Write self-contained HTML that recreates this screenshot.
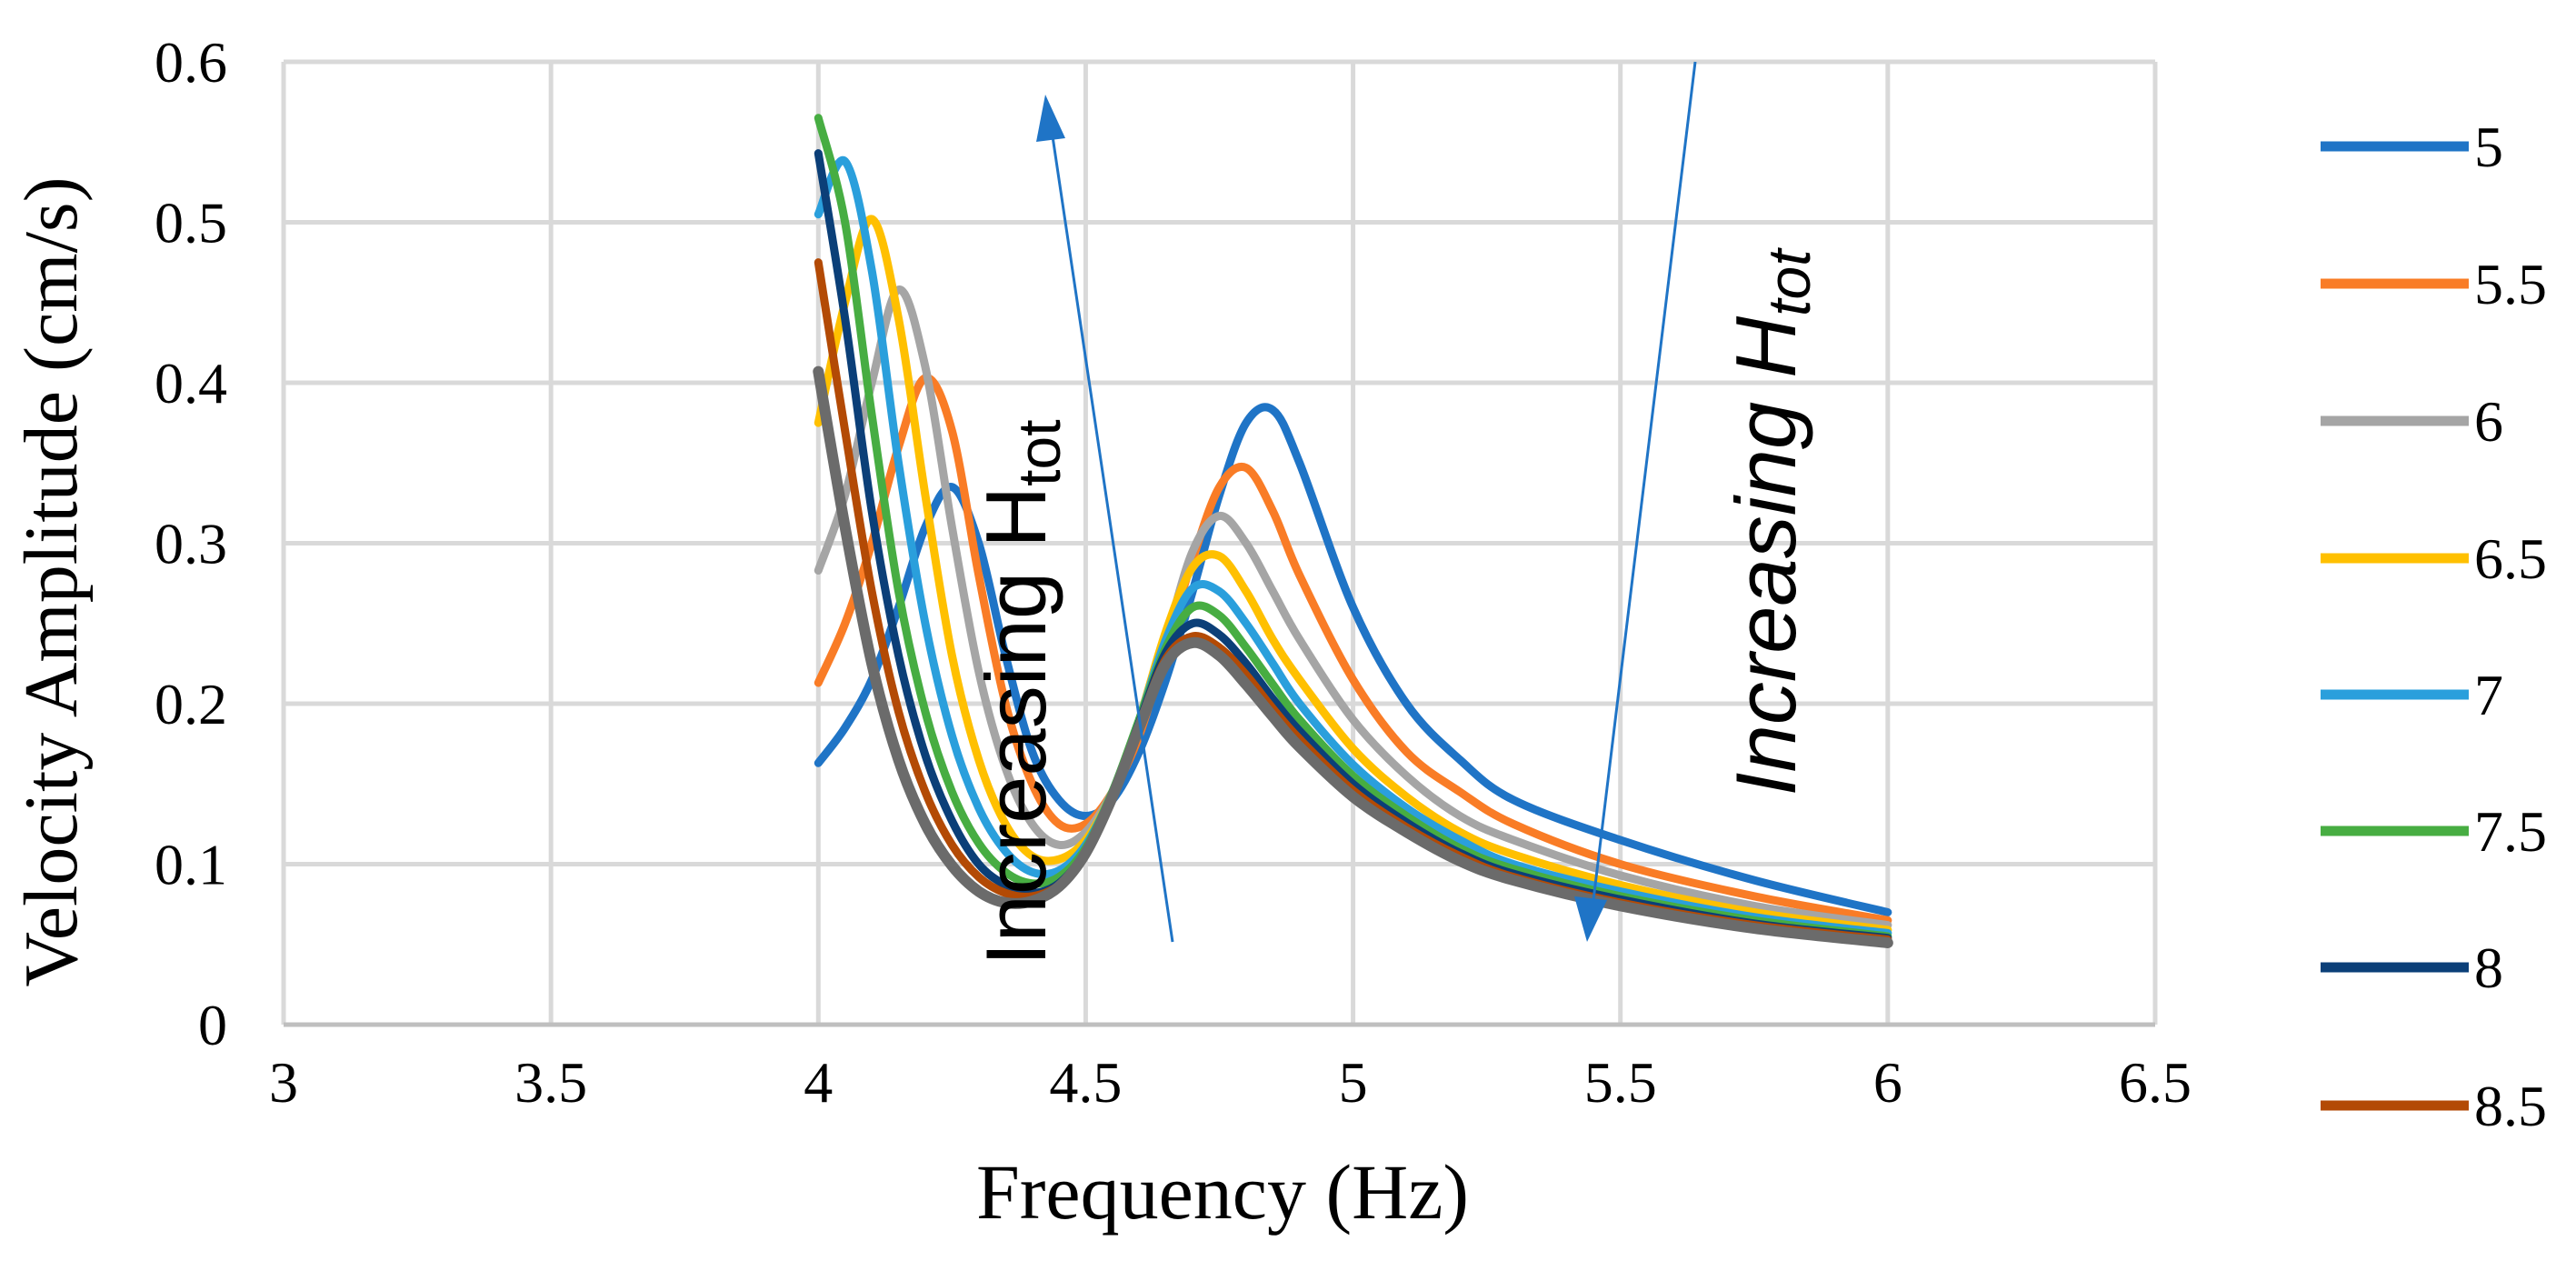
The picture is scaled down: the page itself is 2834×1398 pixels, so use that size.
<!DOCTYPE html>
<html><head><meta charset="utf-8"><style>
html,body{margin:0;padding:0;background:#fff;}
svg{display:block;}
text{font-family:"Liberation Serif",serif;fill:#000;}
</style></head><body>
<svg id="chart" width="2834" height="1398" viewBox="0 0 2834 1398" xmlns="http://www.w3.org/2000/svg">
<g id="grid"></g>
<g id="ticks"></g>
<g id="series"></g>
<g id="annot">
  <line x1="1290" y1="1036" x2="1158" y2="150" stroke="#1f74c6" stroke-width="3"/>
  <polygon points="1150,104 1172,152 1140,156" fill="#1f74c6"/>
  <text transform="translate(1150,762) rotate(-90)" text-anchor="middle" style="font-family:'Liberation Sans',sans-serif;font-size:94px">Increasing H<tspan font-size="66" dy="16">tot</tspan></text>
  <line x1="1865" y1="68" x2="1753" y2="990" stroke="#1f74c6" stroke-width="3"/>
  <polygon points="1746,1036 1732,986 1768,990" fill="#1f74c6"/>
  <text transform="translate(1975,575) rotate(-90)" text-anchor="middle" style="font-family:'Liberation Sans',sans-serif;font-size:94px;font-style:italic">Increasing H<tspan font-size="66" dy="16">tot</tspan></text>
</g>
<text x="1345" y="1340" text-anchor="middle" font-size="86">Frequency (Hz)</text>
<text transform="translate(84,640) rotate(-90)" text-anchor="middle" font-size="84">Velocity Amplitude (cm/s)</text>
<g id="legend"></g>
</svg>
<script>
const freqs=[4.0,4.05,4.1,4.15,4.2,4.25,4.3,4.35,4.4,4.45,4.5,4.55,4.6,4.65,4.7,4.75,4.8,4.85,4.9,5.0,5.1,5.2,5.3,5.5,5.75,6.0];
const seriesNames=["5","5.5","6","6.5","7","7.5","8","8.5","9"];
const seriesColors=["#1f74c6","#f97c26","#a5a5a5","#ffc000","#2a9fdc","#47ad42","#0b3f78","#b34a05","#6b6b6b"];
const s5=[0.163,0.185,0.215,0.26,0.31,0.335,0.3,0.23,0.17,0.14,0.13,0.14,0.17,0.215,0.27,0.33,0.375,0.383,0.35,0.26,0.2,0.165,0.14,0.115,0.09,0.07];
const s55=[0.213,0.25,0.3,0.36,0.403,0.37,0.28,0.2,0.15,0.125,0.125,0.145,0.18,0.235,0.29,0.335,0.347,0.32,0.28,0.215,0.17,0.145,0.125,0.1,0.08,0.065];
const s6=[0.283,0.33,0.4,0.458,0.41,0.31,0.22,0.16,0.125,0.112,0.12,0.145,0.185,0.24,0.295,0.317,0.3,0.27,0.24,0.19,0.155,0.13,0.115,0.093,0.074,0.062];
const s65=[0.375,0.45,0.502,0.44,0.33,0.23,0.165,0.125,0.105,0.103,0.115,0.145,0.19,0.245,0.285,0.292,0.27,0.24,0.215,0.172,0.142,0.12,0.106,0.087,0.07,0.059];
const s7=[0.505,0.538,0.47,0.35,0.25,0.18,0.135,0.108,0.095,0.096,0.112,0.145,0.19,0.24,0.272,0.27,0.25,0.225,0.2,0.162,0.135,0.115,0.1,0.083,0.067,0.057];
const s75=[0.565,0.5,0.38,0.27,0.195,0.145,0.113,0.095,0.088,0.092,0.11,0.145,0.19,0.235,0.26,0.255,0.235,0.212,0.19,0.155,0.13,0.11,0.097,0.08,0.065,0.055];
const s8=[0.543,0.44,0.32,0.23,0.168,0.127,0.1,0.087,0.082,0.088,0.108,0.143,0.188,0.232,0.25,0.243,0.225,0.203,0.183,0.15,0.126,0.107,0.094,0.078,0.063,0.054];
const s85=[0.475,0.37,0.27,0.195,0.145,0.112,0.092,0.082,0.08,0.087,0.107,0.142,0.187,0.228,0.242,0.235,0.218,0.197,0.178,0.146,0.123,0.105,0.092,0.076,0.062,0.053];
const s9=[0.407,0.31,0.225,0.165,0.125,0.099,0.083,0.076,0.077,0.086,0.107,0.142,0.185,0.225,0.238,0.23,0.212,0.192,0.173,0.142,0.12,0.102,0.09,0.074,0.06,0.051];
const allSeries=[s5,s55,s6,s65,s7,s75,s8,s85,s9];
const xTicks=["3","3.5","4","4.5","5","5.5","6","6.5"];
const yTicks=["0","0.1","0.2","0.3","0.4","0.5","0.6"];

const NS="http://www.w3.org/2000/svg";
const X0=312,X1=2371,Y0=1127,Y1=68;
function xs(v){return X0+(v-3)/(6.5-3)*(X1-X0);}
function ys(v){return Y0-(v/0.6)*(Y0-Y1);}
function mk(tag,parent,attrs){const e=document.createElementNS(NS,tag);for(const k in attrs)e.setAttribute(k,attrs[k]);parent.appendChild(e);return e;}
const grid=document.getElementById('grid'),ticks=document.getElementById('ticks');
xTicks.forEach(t=>{const v=parseFloat(t);
  const l=mk('line',grid,{x1:xs(v),x2:xs(v),y1:Y1,y2:Y0,stroke:'#d9d9d9','stroke-width':5});
  
  
  const tx=mk('text',ticks,{x:xs(v),y:1212,'text-anchor':'middle','font-size':64});
  tx.textContent=t;
  
  
});
yTicks.forEach(t=>{const v=parseFloat(t);
  const l=mk('line',grid,{x1:X0,x2:X1,y1:ys(v),y2:ys(v),stroke:v===0?'#bfbfbf':'#d9d9d9','stroke-width':5});
  
  
  const tx=mk('text',ticks,{x:250,y:ys(v)+22,'text-anchor':'end','font-size':64});
  tx.textContent=t;
  
  
});
function smoothPath(pts){
  let d='M'+pts[0][0]+','+pts[0][1];
  for(let i=0;i<pts.length-1;i++){
    const p0=pts[Math.max(0,i-1)],p1=pts[i],p2=pts[i+1],p3=pts[Math.min(pts.length-1,i+2)];
    const c1x=p1[0]+(p2[0]-p0[0])/6,c1y=p1[1]+(p2[1]-p0[1])/6;
    const c2x=p2[0]-(p3[0]-p1[0])/6,c2y=p2[1]-(p3[1]-p1[1])/6;
    d+=' C'+c1x+','+c1y+' '+c2x+','+c2y+' '+p2[0]+','+p2[1];
  }
  return d;
}
const sg=document.getElementById('series');
allSeries.forEach((arr,i)=>{
  const pts=arr.map((v,j)=>[xs(freqs[j]),ys(v)]);
  const p=mk('path',sg,{d:smoothPath(pts),fill:'none',stroke:seriesColors[i],'stroke-width':i===8?12:9,'stroke-linejoin':'round','stroke-linecap':'round'});
  
  
});
const lg=document.getElementById('legend');
const legendY=[161,312,463,614,764,914,1064,1216];
for(let i=0;i<8;i++){
  const y=legendY[i];
  const l=mk('line',lg,{x1:2553,x2:2716,y1:y,y2:y,stroke:seriesColors[i],'stroke-width':11});
  
  
  const t=mk('text',lg,{x:2722,y:y+22,'font-size':64});
  t.textContent=seriesNames[i];
  
  
}
</script>
</body></html>
